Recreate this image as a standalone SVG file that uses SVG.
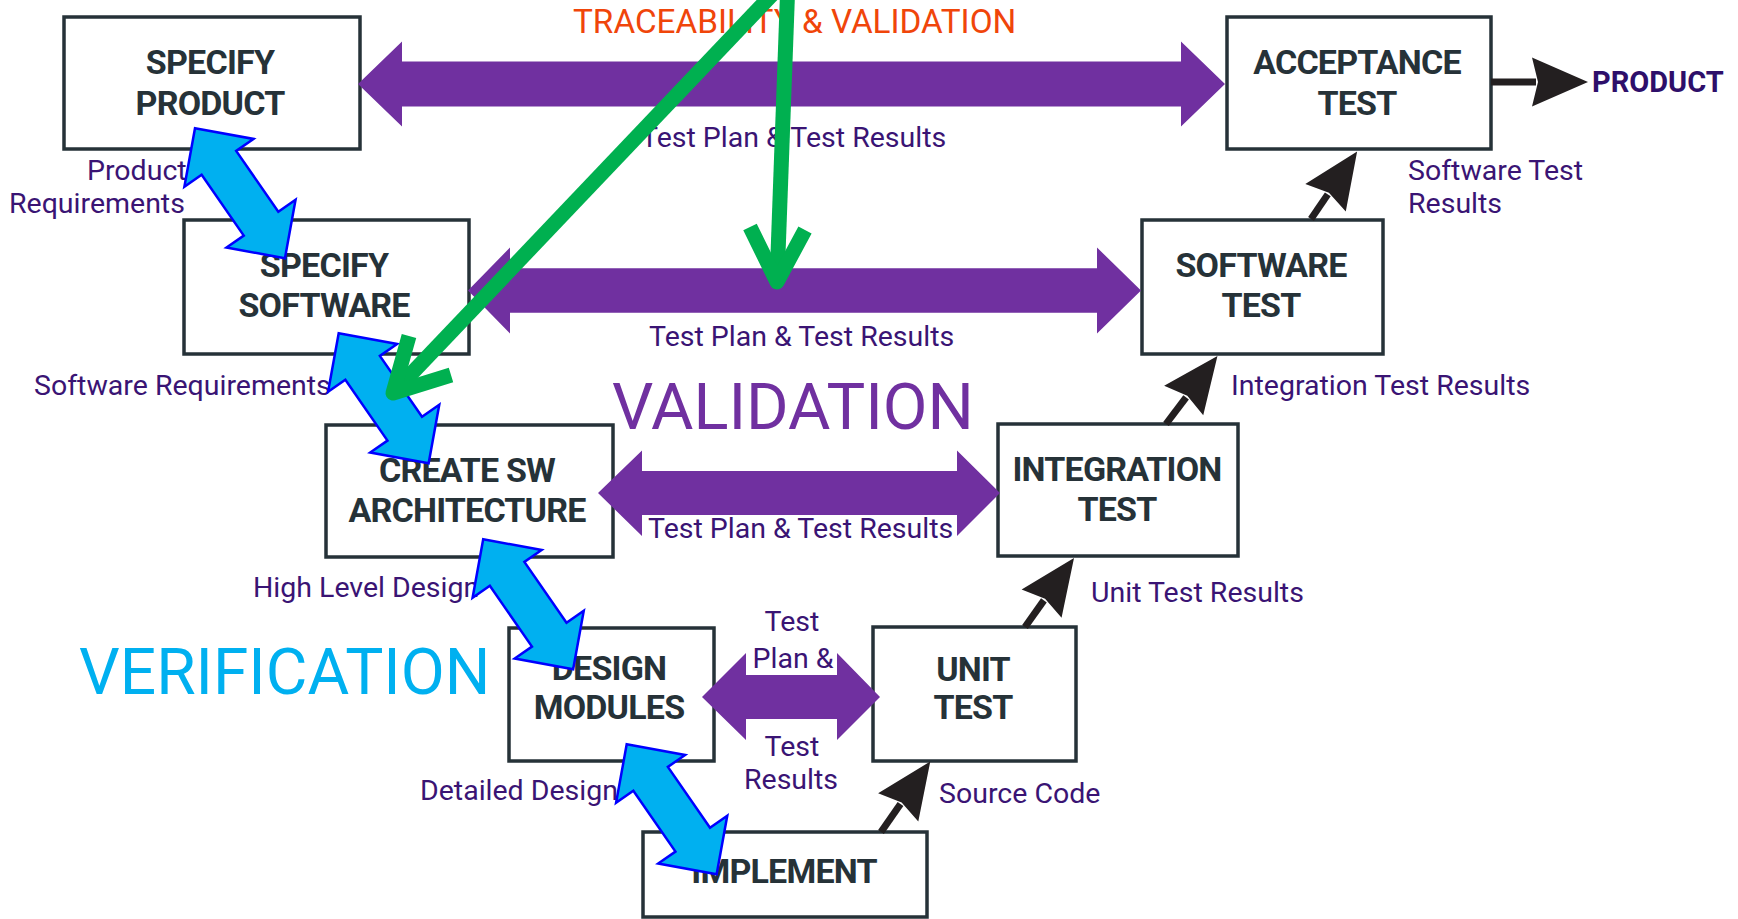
<svg xmlns="http://www.w3.org/2000/svg" width="1738" height="919" viewBox="0 0 1738 919">
<style>
.box{fill:#ffffff;stroke:#263238;stroke-width:3.5}
.bt{font-family:Roboto,"Liberation Sans",sans-serif;font-weight:700;font-size:34px;fill:#263238;text-anchor:middle;letter-spacing:-0.8px}
.lb{font-family:Roboto,"Liberation Sans",sans-serif;font-size:28.5px;fill:#3a1474}
.lbm{font-family:Roboto,"Liberation Sans",sans-serif;font-size:28.5px;fill:#3a1474;text-anchor:middle}
.pa{fill:#7030a0}
.blk{stroke:#231f20;stroke-width:7;fill:none}
.ba{fill:#00b0f0;stroke:#0000ff;stroke-width:2.5;stroke-linejoin:miter}
.gr{fill:none;stroke:#00b050;stroke-width:15;stroke-linejoin:round;stroke-linecap:butt}
</style>
<defs>
<marker id="ah" markerUnits="userSpaceOnUse" orient="auto" overflow="visible" refX="0" refY="0" markerWidth="60" markerHeight="60">
<path d="M52,0 L-4,-24.5 L2,0 L-4,24.5 Z" fill="#231f20"/>
</marker>
<path id="dbl" d="M0,0 L42,-42 L42,-21 L116,-21 L116,-42 L158,0 L116,42 L116,21 L42,21 L42,42 Z"/>
</defs>
<rect width="1738" height="919" fill="#ffffff"/>

<g id="labels">
<text class="lb" x="87" y="180">Product</text>
<text class="lb" x="9" y="213">Requirements</text>
<text class="lb" x="34" y="395">Software Requirements</text>
<text class="lb" x="253" y="597">High Level Design</text>
<text class="lb" x="420" y="800">Detailed Design</text>
<text class="lb" x="641" y="147">Test Plan &amp; Test Results</text>
<text class="lb" x="649" y="346">Test Plan &amp; Test Results</text>
<text class="lb" x="648" y="538">Test Plan &amp; Test Results</text>
<text class="lbm" x="792" y="631">Test</text>
<text class="lbm" x="793" y="668">Plan &amp;</text>
<text class="lbm" x="792" y="756">Test</text>
<text class="lbm" x="791" y="789">Results</text>
<text class="lb" x="1091" y="602">Unit Test Results</text>
<text class="lb" x="939" y="803">Source Code</text>
<text class="lb" x="1231" y="395">Integration Test Results</text>
<text class="lb" x="1408" y="180">Software Test</text>
<text class="lb" x="1408" y="213">Results</text>
<text x="1592" y="92" style="font-family:Roboto,'Liberation Sans',sans-serif;font-weight:700;font-size:29px;fill:#2e0f6a">PRODUCT</text>
<text x="573" y="33" style="font-family:Roboto,'Liberation Sans',sans-serif;font-size:33.3px;fill:#f0450a">TRACEABILITY &amp; VALIDATION</text>
<text x="612" y="429" style="font-family:Roboto,'Liberation Sans',sans-serif;font-size:65px;fill:#7030a0">VALIDATION</text>
<text x="79" y="694" style="font-family:Roboto,'Liberation Sans',sans-serif;font-size:64px;fill:#00b0f0">VERIFICATION</text>
</g>

<g id="specify-product">
<rect class="box" x="64" y="17" width="296" height="132"/>
<text class="bt" x="210" y="74">SPECIFY</text>
<text class="bt" x="210" y="115">PRODUCT</text>
</g>
<g id="specify-software">
<rect class="box" x="184" y="220" width="285" height="134"/>
<text class="bt" x="324" y="277">SPECIFY</text>
<text class="bt" x="324" y="317">SOFTWARE</text>
</g>
<g id="create-sw-architecture">
<rect class="box" x="326" y="425" width="287" height="132"/>
<text class="bt" x="467" y="482">CREATE SW</text>
<text class="bt" x="467" y="522">ARCHITECTURE</text>
</g>
<g id="design-modules">
<rect class="box" x="509" y="628" width="205" height="133"/>
<text class="bt" x="609" y="680">DESIGN</text>
<text class="bt" x="609" y="719">MODULES</text>
</g>
<g id="implement">
<rect class="box" x="643" y="832" width="284" height="85"/>
<text class="bt" x="784" y="883">IMPLEMENT</text>
</g>
<g id="unit-test">
<rect class="box" x="873" y="627" width="203" height="134"/>
<text class="bt" x="973" y="681">UNIT</text>
<text class="bt" x="973" y="719">TEST</text>
</g>
<g id="integration-test">
<rect class="box" x="998" y="424" width="240" height="132"/>
<text class="bt" x="1117" y="481">INTEGRATION</text>
<text class="bt" x="1117" y="521">TEST</text>
</g>
<g id="software-test">
<rect class="box" x="1142" y="220" width="241" height="134"/>
<text class="bt" x="1261" y="277">SOFTWARE</text>
<text class="bt" x="1261" y="317">TEST</text>
</g>
<g id="acceptance-test">
<rect class="box" x="1227" y="17" width="264" height="132"/>
<text class="bt" x="1357" y="74">ACCEPTANCE</text>
<text class="bt" x="1357" y="115">TEST</text>
</g>

<g id="connectors">
<path class="pa" d="M358,84 L402,41.5 L402,61.5 L1181,61.5 L1181,41.5 L1225,84 L1181,126.5 L1181,106.5 L402,106.5 L402,126.5 Z"/>
<path class="pa" d="M468,290.5 L510,247.5 L510,268.3 L1097,268.3 L1097,247.5 L1141,290.5 L1097,333.5 L1097,312.7 L510,312.7 L510,333.5 Z"/>
<path class="pa" d="M598,493 L642,450.5 L642,471 L957,471 L957,450.5 L1000,493 L957,536 L957,515 L642,515 L642,536 Z"/>
<path class="pa" d="M702,697 L746,653 L746,675 L837,675 L837,653 L880,697 L837,740 L837,719 L746,719 L746,740 Z"/>

<path class="blk" d="M1491,82 L1536,82" stroke-width="8" marker-end="url(#ah)"/>
<path class="blk" d="M1311,219 L1327.8,194.4" marker-end="url(#ah)"/>
<path class="blk" d="M1166,424 L1186.1,397.4" marker-end="url(#ah)"/>
<path class="blk" d="M1025,627 L1043.9,600.4" marker-end="url(#ah)"/>
<path class="blk" d="M881,832 L900.5,804.1" marker-end="url(#ah)"/>

<use href="#dbl" class="ba" transform="translate(195,128.3) rotate(55.3)"/>
<use href="#dbl" class="ba" transform="translate(338.7,333.3) rotate(55.3)"/>
<use href="#dbl" class="ba" transform="translate(483.2,539.3) rotate(55.3)"/>
<use href="#dbl" class="ba" transform="translate(626.7,744.3) rotate(55.3)"/>

<path class="gr" d="M786,-20 L393,393"/>
<path class="gr" d="M409,336 L393,393 L451,375"/>
<path class="gr" d="M788,-20 L777,282"/>
<path class="gr" d="M750,227 L777,282 L805,230"/>
</g>
</svg>
